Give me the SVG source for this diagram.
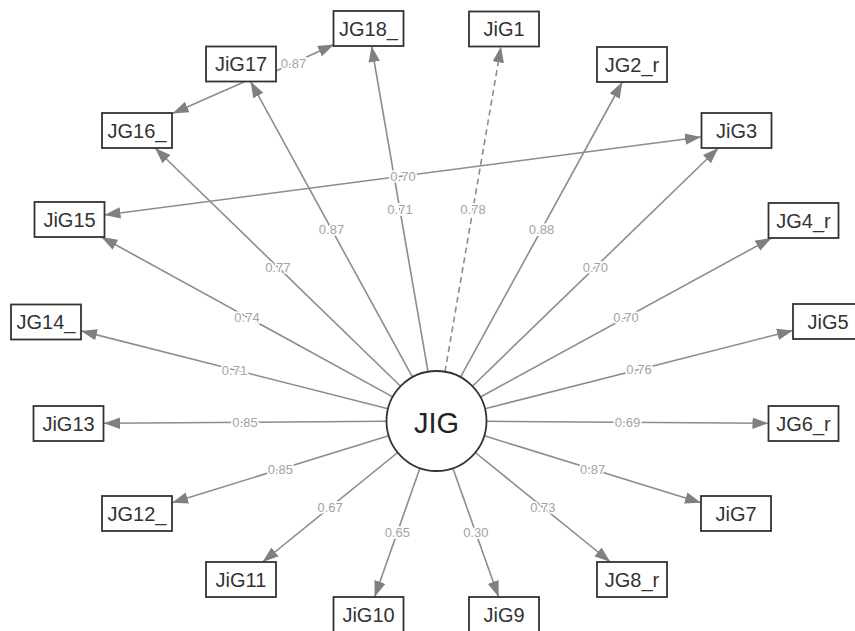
<svg xmlns="http://www.w3.org/2000/svg" width="855" height="631" viewBox="0 0 855 631">
<style>
.e{stroke:#8c8c8c;stroke-width:1.6;fill:none;marker-end:url(#ah)}
.d{stroke-dasharray:6,4}
.b{marker-start:url(#ah)}
.lb{font-family:"Liberation Sans",Arial,sans-serif;font-size:13px;fill:#a3a3a3;text-anchor:middle;stroke:#fff;stroke-width:3.5;paint-order:stroke}
.n rect{fill:#fff;stroke:#333;stroke-width:1.8}
.n text{font-family:"Liberation Sans",Arial,sans-serif;font-size:20px;fill:#333;text-anchor:middle}
</style>
<defs>
<marker id="ah" markerUnits="userSpaceOnUse" markerWidth="16" markerHeight="12" viewBox="0 0 14 10" refX="14" refY="5" orient="auto-start-reverse">
<path d="M0,0 L14,5 L0,10 z" fill="#808080"/>
</marker>
</defs>
<rect width="855" height="631" fill="#fff"/>
<g id="edges">
<line class="e" x1="428" y1="371.7" x2="371.5" y2="46"/>
<line class="e d" x1="445" y1="371.7" x2="501" y2="46.5"/>
<line class="e" x1="412.5" y1="377.1" x2="250.6" y2="81.5"/>
<line class="e" x1="460.5" y1="377.2" x2="622.4" y2="82"/>
<line class="e" x1="400.6" y1="386.2" x2="155" y2="148"/>
<line class="e" x1="472.4" y1="386.2" x2="718.4" y2="148"/>
<line class="e" x1="392.7" y1="396.9" x2="101.4" y2="237"/>
<line class="e" x1="480.4" y1="397" x2="771.5" y2="238"/>
<line class="e" x1="388" y1="408.7" x2="81" y2="330.9"/>
<line class="e" x1="485" y1="408.7" x2="793" y2="330.4"/>
<line class="e" x1="386.5" y1="421.3" x2="104" y2="423.3"/>
<line class="e" x1="486.5" y1="421.3" x2="768.5" y2="423.3"/>
<line class="e" x1="388.7" y1="435.8" x2="172" y2="502.7"/>
<line class="e" x1="484.3" y1="435.8" x2="701" y2="502.7"/>
<line class="e" x1="397.7" y1="452.5" x2="262.6" y2="562"/>
<line class="e" x1="475.3" y1="452.5" x2="610.4" y2="562"/>
<line class="e" x1="419.9" y1="468.2" x2="374.6" y2="597"/>
<line class="e" x1="452.9" y1="468.2" x2="498.6" y2="597"/>
<line class="e b" x1="701" y1="137" x2="104.5" y2="215"/>
<line class="e" x1="276" y1="71" x2="334" y2="44.5"/>
<line class="e" x1="245" y1="81.5" x2="172.5" y2="113.5"/>
<text class="lb" x="400" y="214">0.71</text>
<text class="lb" x="473" y="214">0.78</text>
<text class="lb" x="331.5" y="234">0.87</text>
<text class="lb" x="541.5" y="234">0.88</text>
<text class="lb" x="277.8" y="272">0.77</text>
<text class="lb" x="595.4" y="272">0.70</text>
<text class="lb" x="247" y="321.5">0.74</text>
<text class="lb" x="626" y="321.5">0.70</text>
<text class="lb" x="234.5" y="374.5">0.71</text>
<text class="lb" x="639" y="374">0.76</text>
<text class="lb" x="245" y="426.5">0.85</text>
<text class="lb" x="627.5" y="426.5">0.69</text>
<text class="lb" x="280.4" y="473.5">0.85</text>
<text class="lb" x="592.6" y="473.5">0.87</text>
<text class="lb" x="330.1" y="511.5">0.67</text>
<text class="lb" x="542.9" y="511.5">0.73</text>
<text class="lb" x="397.3" y="537">0.65</text>
<text class="lb" x="475.8" y="537">0.30</text>
<text class="lb" x="403" y="180.5">0.70</text>
<text class="lb" x="293.5" y="68">0.87</text>
</g>
<g id="JIG"><circle cx="436.5" cy="421" r="50" fill="#fff" stroke="#333" stroke-width="1.8"/><text x="436.5" y="433" font-family="'Liberation Sans',Arial,sans-serif" font-size="29" fill="#222" text-anchor="middle">JIG</text></g>
<g id="JG18_" class="n"><rect x="333.5" y="11" width="70" height="35"/><text x="368.5" y="35.5">JG18_</text></g>
<g id="JiG1" class="n"><rect x="469" y="11.5" width="70" height="35"/><text x="504" y="36">JiG1</text></g>
<g id="JiG17" class="n"><rect x="206" y="46.5" width="70" height="35"/><text x="241" y="71">JiG17</text></g>
<g id="JG2_r" class="n"><rect x="597" y="47" width="70" height="35"/><text x="632" y="71.5">JG2_r</text></g>
<g id="JG16_" class="n"><rect x="102" y="113" width="70" height="35"/><text x="137" y="137.5">JG16_</text></g>
<g id="JiG3" class="n"><rect x="701.5" y="113" width="70" height="35"/><text x="736.5" y="137.5">JiG3</text></g>
<g id="JiG15" class="n"><rect x="34.5" y="202" width="70" height="35"/><text x="69.5" y="226.5">JiG15</text></g>
<g id="JG4_r" class="n"><rect x="768.5" y="203" width="70" height="35"/><text x="803.5" y="227.5">JG4_r</text></g>
<g id="JG14_" class="n"><rect x="11" y="304.5" width="70" height="35"/><text x="46" y="329">JG14_</text></g>
<g id="JiG5" class="n"><rect x="793" y="304" width="70" height="35"/><text x="828" y="328.5">JiG5</text></g>
<g id="JiG13" class="n"><rect x="33.5" y="406" width="70" height="35"/><text x="68.5" y="430.5">JiG13</text></g>
<g id="JG6_r" class="n"><rect x="768.5" y="406" width="70" height="35"/><text x="803.5" y="430.5">JG6_r</text></g>
<g id="JG12_" class="n"><rect x="102" y="496" width="70" height="35"/><text x="137" y="520.5">JG12_</text></g>
<g id="JiG7" class="n"><rect x="701" y="496" width="70" height="35"/><text x="736" y="520.5">JiG7</text></g>
<g id="JiG11" class="n"><rect x="206" y="562" width="70" height="35"/><text x="241" y="586.5">JiG11</text></g>
<g id="JG8_r" class="n"><rect x="597" y="562" width="70" height="35"/><text x="632" y="586.5">JG8_r</text></g>
<g id="JiG10" class="n"><rect x="333.5" y="597" width="70" height="35"/><text x="368.5" y="621.5">JiG10</text></g>
<g id="JiG9" class="n"><rect x="469" y="597" width="70" height="35"/><text x="504" y="621.5">JiG9</text></g>
</svg>
